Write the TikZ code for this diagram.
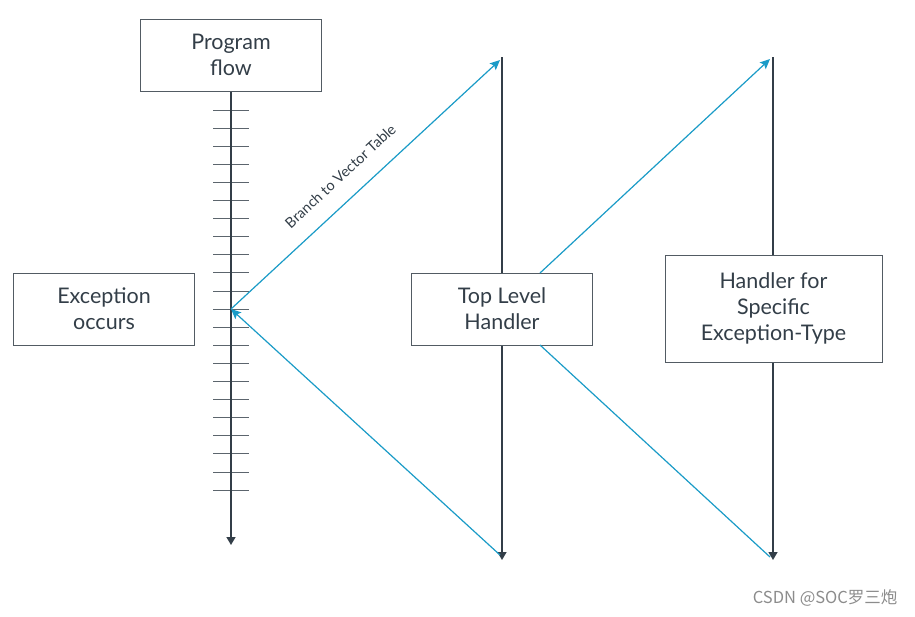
\documentclass[tikz,border=0pt]{standalone}
\usepackage{fontspec}
\setmainfont{Lato}
\newfontfamily\cjk{Noto Sans CJK SC}
\usetikzlibrary{arrows.meta}
\definecolor{flowgray}{HTML}{333E48}
\definecolor{branchblue}{HTML}{1A9BC7}

\begin{document}
\begin{tikzpicture}[x=1pt,y=-1pt, font=\fontsize{21.5}{26}\selectfont]
 % styles for boxes, flow lines and branches
 \tikzset{box/.style={draw=flowgray!85, line width=1pt, fill=white, align=center, text=flowgray, minimum width=181pt, minimum height=72pt, inner sep=0pt},
  flow/.style={draw=flowgray, line width=1.4pt, -{Triangle[width=9pt,length=8pt]}},
  tick/.style={draw=flowgray!80, line width=1pt},
  branch/.style={draw=branchblue, line width=1.2pt},
  branchto/.style={branch, -{Stealth[width=9pt,length=10pt,inset=2pt]}}}
 \useasboundingbox (0,0) rectangle (915,616);

 %end points of the flow lines
 \coordinate (flowend) at (231,545);
 \coordinate (hit) at (231,309);
 \coordinate (topstart) at (502,57);
 \coordinate (topend) at (502,560);
 \coordinate (specstart) at (773,57);
 \coordinate (specend) at (773,560);

 %program flow with ticks
 \node[box] (program) at (231,55) {Program\\flow};
 \foreach \i in {0,...,21}
  \draw[tick] (213,{110+18.1*\i}) -- (249,{110+18.1*\i});
 \draw[flow] (program.south) -- (flowend);

 %handler lines
 \draw[flow] (topstart) -- (topend);
 \draw[flow] (specstart) -- (specend);

 %boxes
 \node[box] (exc) at (104,309) {Exception\\occurs};
 \node[box] (top) at (502,309) {Top Level\\Handler};
 \node[box, minimum width=217pt, minimum height=107pt] (spec) at (773.5,308.5) {Handler for\\Specific\\Exception-Type};

 %branches
 \coordinate (topout) at (540,273);
 \coordinate (topback) at (540,345);
 \draw[branchto] (hit) -- (500,60) node[pos=0.465, sloped, above=14pt, font=\fontsize{14.5}{16}\selectfont, text=flowgray] (vlabel) {Branch to Vector Table};
 \draw[branchto] (topout) -- (770,59);
 \draw[branch] (topback) -- (770,557);
 \draw[branchto] (500,555) -- (hit);

 %watermark
 \node[anchor=east, font=\cjk\fontsize{16.5}{18}\selectfont, text=black!45] (mark) at (901,598) {CSDN @SOC罗三炮};
\end{tikzpicture}
\end{document}
